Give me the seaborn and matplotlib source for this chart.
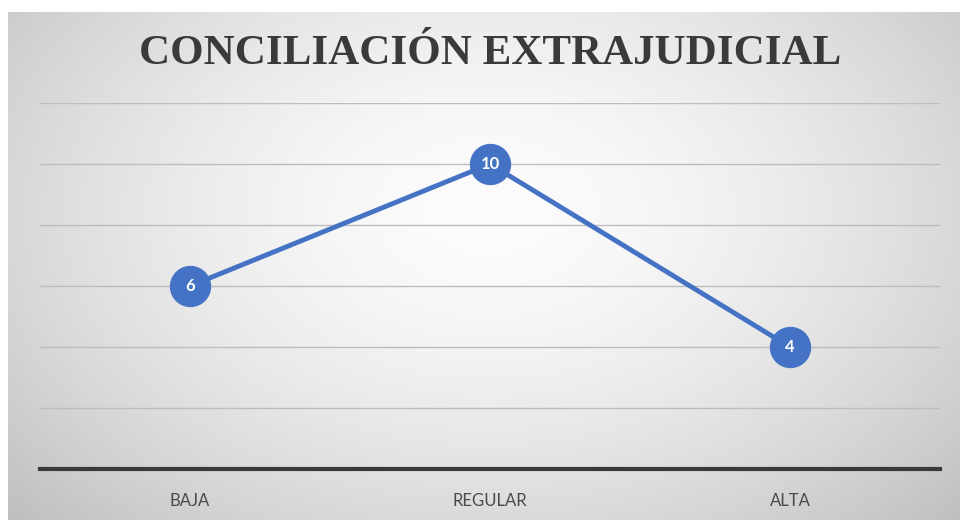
import numpy as np
import pandas as pd
import matplotlib
matplotlib.use("Agg")
import matplotlib.pyplot as plt
import seaborn as sns

categories = ["BAJA", "REGULAR", "ALTA"]
values = [6, 10, 4]
title = "CONCILIACIÓN EXTRAJUDICIAL"

sns.set_theme(style="white")
plt.rcParams['font.family'] = ['Lato', 'DejaVu Sans']

W, H = 960, 520
fig = plt.figure(figsize=(9.6, 5.2), dpi=100)
fig.patch.set_facecolor("white")

# background gradient panel
bg = fig.add_axes([8 / W, 0, 1 - 8 / W, 1 - 12 / H])
bg.set_axis_off()
yy, xx = np.mgrid[0:508, 0:952]
cx, cy = 480, 200
r = np.sqrt(((xx - cx) / 620.0) ** 2 + ((yy - cy) / 420.0) ** 2)
g = 0.99 - 0.22 * np.clip(r, 0, 1.3) ** 1.6
img = np.dstack([g, g, g])
bg.imshow(img, aspect="auto", extent=[0, 1, 0, 1], origin="upper")

df = pd.DataFrame({"cat": categories, "val": values})
ax = fig.add_axes([40 / W, (H - 469) / H, 900 / W, 366 / H])
ax.patch.set_alpha(0)
sns.lineplot(data=df, x="cat", y="val", ax=ax, color="#4472C4", linewidth=3.5,
             marker="o", markersize=29, markeredgecolor="#4472C4", sort=False)
for i, v in enumerate(values):
    ax.text(i, v, str(v), ha="center", va="center", color="white",
            fontsize=12, fontweight="bold", zorder=5)

ax.set_xlim(-0.5, 2.5)
ax.set_ylim(0, 12)
ax.set_yticks([2, 4, 6, 8, 10, 12])
ax.yaxis.grid(True, color="#bdbdbd", linewidth=1)
ax.set_axisbelow(True)
ax.tick_params(axis="y", left=False, labelleft=False)
ax.tick_params(axis="x", bottom=False, labelsize=12, colors="#4a4a4a", pad=11)
ax.set_xlabel("")
ax.set_ylabel("")
for s in ["top", "right", "left"]:
    ax.spines[s].set_visible(False)
ax.spines["bottom"].set_color("#3a3a3a")
ax.spines["bottom"].set_linewidth(3)

fig.text(490 / W, 1 - 54 / H, title, ha="center", va="center",
         fontsize=31, fontweight="bold", color="#3a3a3a",
         family=["Liberation Serif", "DejaVu Serif"])

fig.savefig("out.png", dpi=100)
